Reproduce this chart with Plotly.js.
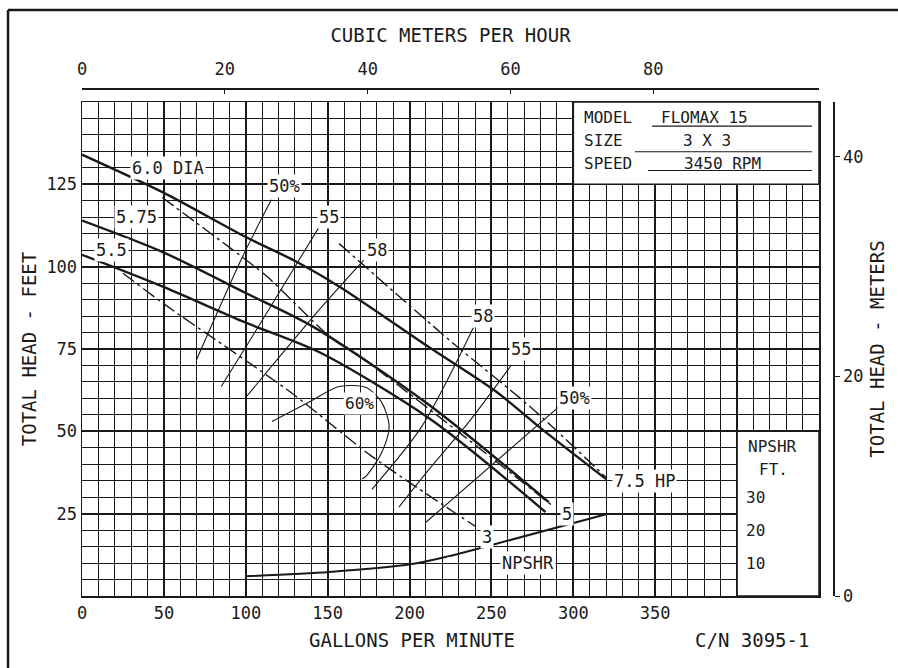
<!DOCTYPE html>
<html><head><meta charset="utf-8">
<script src="https://cdn.plot.ly/plotly-3.0.1.min.js"></script>
<style>html,body{margin:0;padding:0;background:#fff}</style>
</head><body><div id="chart" style="width:898px;height:668px"></div>
<script>
// ---- tick labels ----
const gpmTicks = [0, 50, 100, 150, 200, 250, 300, 350, 400, 450];
const gpmTickText = ['0', '50', '100', '150', '200', '250', '300', '350', '', ''];
const ftTicks = [0, 25, 50, 75, 100, 125, 150];
const ftTickText = ['', '25', '50', '75', '100', '125', ''];
const m3hTicks = [0, 20, 40, 60, 80];
const meterTicks = [0, 20, 40];
const npshrScale = [10, 20, 30];

// ---- impeller head curves (GPM, feet) ----
const dia60Gpm = [0, 50, 100, 131, 157, 212, 253, 281, 320];
const dia60Ft  = [134, 122.4, 109, 101.5, 94, 75.5, 62, 50.6, 35.5];
const dia575Gpm = [0, 49, 100, 141, 212, 285];
const dia575Ft  = [114, 104.5, 92, 81.8, 58, 28.5];
const dia55Gpm = [0, 49, 100, 145, 213, 283];
const dia55Ft  = [103.6, 94, 83, 74, 53.6, 25.5];

// ---- horsepower lines ----
const hp75Gpm = [157, 226, 274, 320];
const hp75Ft  = [107, 77, 57.3, 36];
const hp5Gpm = [49, 96, 113, 153, 169, 287];
const hp5Ft  = [121, 103.6, 97, 78, 73, 27.5];
const hp3Gpm = [25, 52, 127, 177, 240];
const hp3Ft  = [98, 88, 62, 42.4, 21.2];

// ---- efficiency lines ----
const eff50LGpm = [115.6, 98, 70];
const eff50LFt  = [120.3, 103, 71.8];
const eff55LGpm = [146.7, 104, 85];
const eff55LFt  = [113.6, 78.8, 63.6];
const eff58LGpm = [172, 145, 100];
const eff58LFt  = [102, 87, 60.3];
const eff60Gpm = [116, 139, 157, 173.5, 183, 187.5, 183, 173.5, 171];
const eff60Ft  = [53, 59, 63.6, 63.3, 58.8, 51.5, 43.6, 36.4, 35.5];
const eff58RGpm = [239, 207.5, 177];
const eff58RFt  = [81.5, 51.5, 32.4];
const eff55RGpm = [262, 236, 212, 193.5];
const eff55RFt  = [70, 52.7, 38.5, 27];
const eff50RGpm = [292, 210];
const eff50RFt  = [57.8, 22.4];

// ---- NPSHR ----
const npshrGpm = [100, 151, 201.5, 224, 248, 320];
const npshrFt  = [6, 7.3, 9.7, 12.1, 15.2, 24.8];

const FONT = "'DejaVu Sans Mono', 'Liberation Mono', monospace";
const INK = '#1a1a1a';

function curve(x, y, width, dash) {
  return {x: x, y: y, type: 'scatter', mode: 'lines', hoverinfo: 'skip', showlegend: false,
    line: {color: INK, width: width, dash: dash || 'solid', shape: 'spline', smoothing: 0.8}};
}
const HPDASH = '14px,4px,3px,4px';
const traces = [
  curve(dia60Gpm, dia60Ft, 2.4), curve(dia575Gpm, dia575Ft, 2.4), curve(dia55Gpm, dia55Ft, 2.4),
  curve(hp75Gpm, hp75Ft, 1.4, HPDASH), curve(hp5Gpm, hp5Ft, 1.4, HPDASH), curve(hp3Gpm, hp3Ft, 1.4, HPDASH),
  curve(eff50LGpm, eff50LFt, 1.1), curve(eff55LGpm, eff55LFt, 1.1), curve(eff58LGpm, eff58LFt, 1.1),
  curve(eff60Gpm, eff60Ft, 1.1), curve(eff58RGpm, eff58RFt, 1.1), curve(eff55RGpm, eff55RFt, 1.1),
  curve(eff50RGpm, eff50RFt, 1.1),
  curve(npshrGpm, npshrFt, 2),
  // invisible anchors so the secondary (metric) axes are drawn
  {x: m3hTicks, y: m3hTicks.map(() => 0), xaxis: 'x2', yaxis: 'y', type: 'scatter', mode: 'markers',
    marker: {opacity: 0, size: 1}, hoverinfo: 'skip', showlegend: false},
  {x: meterTicks.map(() => 0), y: meterTicks, xaxis: 'x', yaxis: 'y2', type: 'scatter', mode: 'markers',
    marker: {opacity: 0, size: 1}, hoverinfo: 'skip', showlegend: false}
];

function lbl(t, x, y, size, extra) {
  return Object.assign({text: t, x: x, y: y, xref: 'x', yref: 'y', showarrow: false,
    font: {family: FONT, size: size || 17, color: INK}, bgcolor: '#fff', borderpad: 1}, extra || {});
}
const CLEAR = {bgcolor: 'rgba(0,0,0,0)'};
const annotations = [
  lbl('6.0 DIA', 52.5, 130), lbl('5.75', 33.5, 115), lbl('5.5', 18, 105),
  lbl('50%', 123.5, 124.5), lbl('55', 151, 115), lbl('58', 180, 105),
  lbl('60%', 169.5, 58.6, 16),
  lbl('58', 245, 85), lbl('55', 268, 75), lbl('50%', 301, 60),
  lbl('7.5 HP', 343.6, 35), lbl('5', 296, 25), lbl('3', 247, 18), lbl('NPSHR', 272.6, 10),
  // model box
  lbl('MODEL', 305.5, 145.4, 16, Object.assign({xanchor: 'left'}, CLEAR)),
  lbl('FLOMAX 15', 380, 145.4, 16, CLEAR),
  lbl('SIZE', 305.5, 138.4, 16, Object.assign({xanchor: 'left'}, CLEAR)),
  lbl('3 X 3', 381.6, 138.4, 16, CLEAR),
  lbl('SPEED', 305.5, 131.4, 16, Object.assign({xanchor: 'left'}, CLEAR)),
  lbl('3450 RPM', 391.3, 131.4, 16, CLEAR),
  // npshr box
  lbl('NPSHR', 421.8, 45.5, 16, CLEAR), lbl('FT.', 422.5, 38.3, 16, CLEAR),
  lbl(String(npshrScale[2]), 411.5, npshrScale[2], 16, CLEAR),
  lbl(String(npshrScale[1]), 411.5, npshrScale[1], 16, CLEAR),
  lbl(String(npshrScale[0]), 411.5, npshrScale[0], 16, CLEAR),
  // bottom texts
  {text: 'GALLONS PER MINUTE', x: 201.5, xref: 'x', y: -0.087, yref: 'paper', yanchor: 'middle', showarrow: false,
    font: {family: FONT, size: 19, color: INK}},
  {text: 'C/N 3095-1', x: 409, xref: 'x', y: -0.087, yref: 'paper', yanchor: 'middle', showarrow: false,
    font: {family: FONT, size: 19, color: INK}}
];

const shapes = [
  {type: 'rect', xref: 'x', yref: 'y', x0: 300, x1: 450, y0: 125, y1: 150, fillcolor: '#fff',
    line: {color: INK, width: 1.5}, layer: 'above'},
  {type: 'rect', xref: 'x', yref: 'y', x0: 400, x1: 450, y0: 0, y1: 50, fillcolor: '#fff',
    line: {color: INK, width: 1.5}, layer: 'above'},
  {type: 'line', xref: 'x', yref: 'y', x0: 348, x1: 445.7, y0: 142.7, y1: 142.7, line: {color: INK, width: 1.2}, layer: 'above'},
  {type: 'line', xref: 'x', yref: 'y', x0: 337.6, x1: 445.7, y0: 134.9, y1: 134.9, line: {color: INK, width: 1.2}, layer: 'above'},
  {type: 'line', xref: 'x', yref: 'y', x0: 345.5, x1: 445.7, y0: 129.2, y1: 129.2, line: {color: INK, width: 1.2}, layer: 'above'},
  // outer frame (top and left)
  {type: 'line', xref: 'paper', yref: 'paper', x0: -0.0985, x1: 1.09, y0: 1.1535, y1: 1.1535, line: {color: INK, width: 2.5}},
  {type: 'line', xref: 'paper', yref: 'paper', x0: -0.0985, x1: -0.0985, y0: 1.1535, y1: -0.15, line: {color: INK, width: 2.5}}
];

const layout = {
  width: 898, height: 668,
  margin: {l: 82, r: 65, t: 88, b: 72, pad: 0},
  paper_bgcolor: '#fff', plot_bgcolor: '#fff',
  showlegend: false,
  xaxis: {domain: [0, 737 / 751], range: [0, 450], tickmode: 'array', tickvals: gpmTicks, ticktext: gpmTickText,
    showgrid: true, gridcolor: INK, gridwidth: 2, zeroline: false,
    minor: {dtick: 10, showgrid: true, gridcolor: INK, gridwidth: 1},
    showline: true, mirror: true, linecolor: INK, linewidth: 1.5,
    ticks: '', ticklabelstandoff: 1,
    tickfont: {family: FONT, size: 17, color: INK}, automargin: false, fixedrange: true},
  yaxis: {domain: [0, 494 / 508], range: [0, 150], tickmode: 'array', tickvals: ftTicks, ticktext: ftTickText,
    showgrid: true, gridcolor: INK, gridwidth: 2, zeroline: false,
    minor: {dtick: 5, showgrid: true, gridcolor: INK, gridwidth: 1},
    showline: true, mirror: true, linecolor: INK, linewidth: 1.5,
    ticks: '', tickfont: {family: FONT, size: 17, color: INK},
    title: {text: 'TOTAL HEAD - FEET', standoff: 4, font: {family: FONT, size: 19, color: INK}},
    automargin: false, fixedrange: true},
  xaxis2: {overlaying: 'x', side: 'top', anchor: 'free', position: 1, range: [0, 103.2],
    tickmode: 'array', tickvals: m3hTicks, showgrid: false, zeroline: false,
    showline: true, linecolor: INK, linewidth: 1.5, ticks: 'inside', ticklen: 4, tickcolor: INK,
    ticklabelstandoff: 6,
    tickfont: {family: FONT, size: 17, color: INK},
    title: {text: 'CUBIC METERS PER HOUR', standoff: 10, font: {family: FONT, size: 19, color: INK}},
    automargin: false, fixedrange: true},
  yaxis2: {overlaying: 'y', side: 'right', anchor: 'free', position: 1, range: [0, 45],
    tickmode: 'array', tickvals: meterTicks, showgrid: false, zeroline: false,
    showline: true, linecolor: INK, linewidth: 1.5, ticks: 'outside', ticklen: 5, tickcolor: INK,
    tickfont: {family: FONT, size: 17, color: INK},
    title: {text: 'TOTAL HEAD - METERS', standoff: 8, font: {family: FONT, size: 19, color: INK}},
    automargin: false, fixedrange: true},
  annotations: annotations,
  shapes: shapes
};

Plotly.newPlot('chart', traces, layout, {displayModeBar: false, staticPlot: true});
</script></body></html>
